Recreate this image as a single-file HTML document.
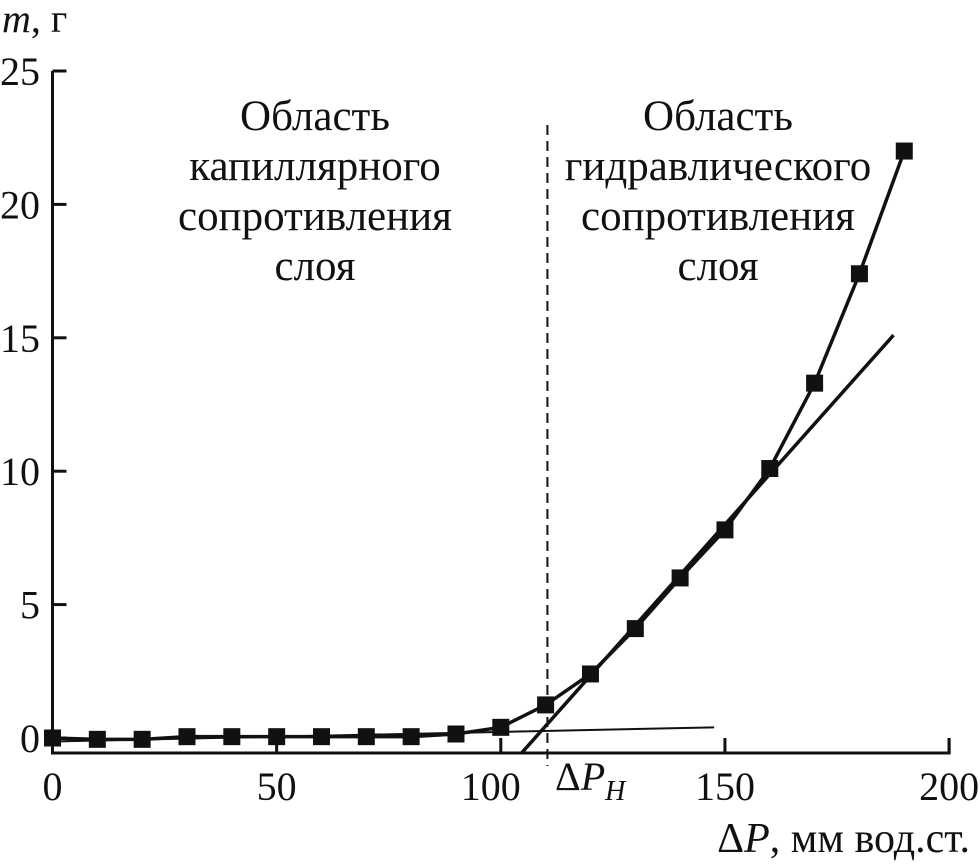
<!DOCTYPE html>
<html><head><meta charset="utf-8"><style>
html,body{margin:0;padding:0;background:#fff;}
svg{display:block;font-family:"Liberation Serif",serif;}
</style></head><body>
<svg id="chart" width="980" height="867" viewBox="0 0 980 867">
<g id="axes"></g>
<g id="lines"></g>
<g id="series"></g>
<g id="texts" fill="#111">
<text x="2" y="32" font-size="40"><tspan font-style="italic">m</tspan>, г</text>
<text x="970" y="852" font-size="42" text-anchor="end">Δ<tspan font-style="italic">P</tspan>, мм вод.ст.</text>
<text x="555" y="790" font-size="40">Δ<tspan font-style="italic">P</tspan><tspan font-style="italic" font-size="28" dy="10">H</tspan></text>
<g font-size="43" text-anchor="middle">
<text x="315" y="130">Область</text><text x="315" y="180">капиллярного</text><text x="315" y="230">сопротивления</text><text x="315" y="280">слоя</text></g>
<g font-size="43" text-anchor="middle">
<text x="718" y="130">Область</text><text x="718" y="180">гидравлического</text><text x="718" y="230">сопротивления</text><text x="718" y="280">слоя</text></g>
</g>
</svg>
<script>
const xTicks=[0,50,100,150,200];
const yTicks=[0,5,10,15,20,25];
const xValues=[0,10,20,30,40,50,60,70,80,90,100,110,120,130,140,150,160,170,180,190];
const yValues=[0,-0.05,-0.05,0.05,0.05,0.05,0.05,0.05,0.05,0.15,0.4,1.24,2.4,4.1,6.0,7.8,10.1,13.3,17.4,22.0];
const flatLineX=[0,147.6];
const flatLineY=[-0.13,0.4];
const steepLineX=[104.7,187.6];
const steepLineY=[-0.55,15.1];
const dPH=110.4;
const NS="http://www.w3.org/2000/svg";
const C='#111';
function X(v){return 52.5+v*4.483;}
function Y(v){return 738-v*26.68;}
function mk(tag,attrs,parent){const e=document.createElementNS(NS,tag);for(const k in attrs)e.setAttribute(k,attrs[k]);parent.appendChild(e);return e;}
const axes=document.getElementById('axes');
const AX=753;
let e=mk('path',{d:`M${X(0)} ${Y(25)} V${AX} H${X(200)} V${AX-15}`,fill:'none',stroke:C,'stroke-width':3},axes);


xTicks.forEach(t=>{
 let l=mk('line',{x1:X(t),x2:X(t),y1:AX,y2:AX-15,stroke:C,'stroke-width':3},axes);
 
 
 let tx=mk('text',{x:X(t)+(t===100?-10:0),y:800,'font-size':40,'text-anchor':'middle',fill:C},axes);
 tx.textContent=t;
 
 
});
yTicks.forEach(t=>{
 let l=mk('line',{x1:X(0),x2:X(0)+14,y1:Y(t),y2:Y(t),stroke:C,'stroke-width':3},axes);
 
 
 let tx=mk('text',{x:40,y:Y(t)+14,'font-size':40,'text-anchor':'end',fill:C},axes);
 tx.textContent=t;
 
 
});
let dl=mk('line',{x1:X(dPH),x2:X(dPH),y1:125,y2:766,stroke:C,'stroke-width':2,'stroke-dasharray':'10,6'},axes);


const lines=document.getElementById('lines');
let f1=mk('line',{x1:X(flatLineX[0]),y1:Y(flatLineY[0]),x2:X(flatLineX[1]),y2:Y(flatLineY[1]),stroke:C,'stroke-width':2},lines);


let f2=mk('line',{x1:X(steepLineX[0]),y1:Y(steepLineY[0]),x2:X(steepLineX[1]),y2:Y(steepLineY[1]),stroke:C,'stroke-width':3.5},lines);


const series=document.getElementById('series');
let p=mk('polyline',{points:xValues.map((x,i)=>X(x)+','+Y(yValues[i])).join(' '),fill:'none',stroke:C,'stroke-width':3.5},series);


xValues.forEach((x,i)=>{
 let r=mk('rect',{x:X(x)-8.5,y:Y(yValues[i])-8.5,width:17,height:17,fill:C},series);
 
 
});
</script>
</body></html>
